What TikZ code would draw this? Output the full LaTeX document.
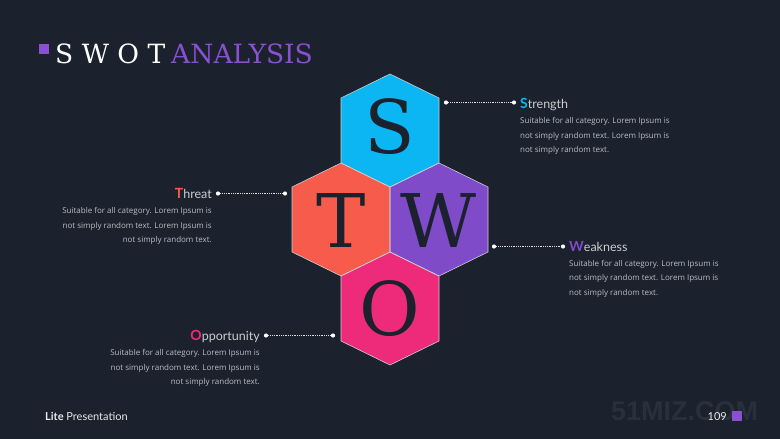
\documentclass[tikz,border=0pt]{standalone}
\usepackage{fontspec}
\setmainfont{DejaVu Serif}
\newfontfamily\bodyfont{Open Sans}
\newfontfamily\headfont{Lato}
\newfontfamily\wmfont{Liberation Sans}
\definecolor{bg}{HTML}{1B222D}
\definecolor{cS}{HTML}{0BB6F2}
\definecolor{cT}{HTML}{F65B4B}
\definecolor{cW}{HTML}{7F4BC9}
\definecolor{cO}{HTML}{EE2B7B}
\definecolor{titlepurple}{HTML}{8A50D2}
\definecolor{hexline}{HTML}{C9CDD3}
\definecolor{headtxt}{HTML}{C9CDD3}
\definecolor{bodytxt}{HTML}{B9BDC4}
\definecolor{letter}{HTML}{1B222D}
\definecolor{wm}{HTML}{28303B}
\tikzset{
  hexcell/.style={draw=hexline, line width=0.6pt},
  bigletter/.style={font=\fontsize{74}{74}\selectfont, text=letter, inner sep=0pt, anchor=base},
  dotend/.style={circle, fill=white, inner sep=0pt, minimum size=4.2pt},
  dotline/.style={draw=white!85!bg, line width=0.9pt, dash pattern=on 0.9pt off 0.9pt},
  heading/.style={font=\headfont\fontsize{12.5}{14}\selectfont, text=headtxt, inner sep=0pt},
  bodytext/.style={font=\bodyfont\fontsize{8}{14.5}\selectfont, text=bodytxt, inner sep=0pt},
  titletext/.style={font=\fontsize{26.5}{26.5}\selectfont, anchor=base west, inner sep=0pt},
}
\newcommand\hexpath[2]{({#1},{#2-56.5}) -- ({#1+49},{#2-32.5}) -- ({#1+49},{#2+32.5}) -- ({#1},{#2+56.5}) -- ({#1-49},{#2+32.5}) -- ({#1-49},{#2-32.5}) -- cycle}
\begin{document}
\begin{tikzpicture}[x=1pt,y=-1pt]
\fill[bg] (0,0) rectangle (780,439);
\useasboundingbox (0,0) rectangle (780,439);
% watermark (faint, behind everything)
\node[font=\wmfont\bfseries\fontsize{27}{27}\selectfont, text=wm, anchor=base west, inner sep=0pt] (wmk) at (611,420) {51MIZ.COM};
% title
\fill[titlepurple] (39,44) rectangle (48.5,53.5);
\node[titletext, text=white] (t1) at (55,63) {S W O T};
\node[titletext, text=titlepurple] (t2) at (171,63) {ANALYSIS};
% hexagons
\fill[cS] \hexpath{390}{130.5};
\fill[cT] \hexpath{341}{219.5};
\fill[cW] \hexpath{439}{219.5};
\fill[cO] \hexpath{390}{308.5};
\draw[hexcell] \hexpath{390}{130.5};
\draw[hexcell] \hexpath{341}{219.5};
\draw[hexcell] \hexpath{439}{219.5};
\draw[hexcell] \hexpath{390}{308.5};
\node[bigletter] (S) at (390,153) {S};
\node[bigletter] (T) at (341,247) {T};
\node[bigletter] (W) at (439,247) {W};
\node[bigletter] (O) at (390,335) {O};
% connectors
\node[dotend] (s1) at (446,102.5) {};
\node[dotend] (s2) at (514,102.5) {};
\draw[dotline] (s1) -- (s2);
\node[dotend] (th1) at (218,193.5) {};
\node[dotend] (th2) at (285,193.5) {};
\draw[dotline] (th1) -- (th2);
\node[dotend] (w1) at (494,246.5) {};
\node[dotend] (w2) at (563,246.5) {};
\draw[dotline] (w1) -- (w2);
\node[dotend] (o1) at (266,335.5) {};
\node[dotend] (o2) at (333,335.5) {};
\draw[dotline] (o1) -- (o2);
% Strength
\node[heading, anchor=base west] (sh) at (520,108) {{\bfseries\color{cS}\fontsize{14}{14}\selectfont S}trength};
\node[bodytext, anchor=north west, align=left] (sb) at (520,117.5) {Suitable for all category. Lorem Ipsum is\\not simply random text. Lorem Ipsum is\\not simply random text.};
% Threat
\node[heading, anchor=base east] (th) at (212,198) {{\bfseries\color{cT}\fontsize{14}{14}\selectfont T}hreat};
\node[bodytext, anchor=north east, align=right] (tb) at (212,207.5) {Suitable for all category. Lorem Ipsum is\\not simply random text. Lorem Ipsum is\\not simply random text.};
% Weakness
\node[heading, anchor=base west] (wh) at (569,251) {{\bfseries\color{cW}\fontsize{14}{14}\selectfont W}eakness};
\node[bodytext, anchor=north west, align=left] (wb) at (569,260) {Suitable for all category. Lorem Ipsum is\\not simply random text. Lorem Ipsum is\\not simply random text.};
% Opportunity
\node[heading, anchor=base east] (oh) at (260,340) {{\bfseries\color{cO}\fontsize{14}{14}\selectfont O}pportunity};
\node[bodytext, anchor=north east, align=right] (ob) at (260,349.5) {Suitable for all category. Lorem Ipsum is\\not simply random text. Lorem Ipsum is\\not simply random text.};
% footer
\node[font=\headfont\fontsize{11}{12}\selectfont, text=white!90!bg, anchor=base west, inner sep=0pt] (lite) at (45,420) {{\bfseries Lite} Presentation};
\node[font=\headfont\fontsize{11}{12}\selectfont, text=white!90!bg, anchor=base east, inner sep=0pt] (pg) at (727,420) {109};
\fill[titlepurple] (731.5,411) rectangle (741.5,421);
\end{tikzpicture}
\end{document}
